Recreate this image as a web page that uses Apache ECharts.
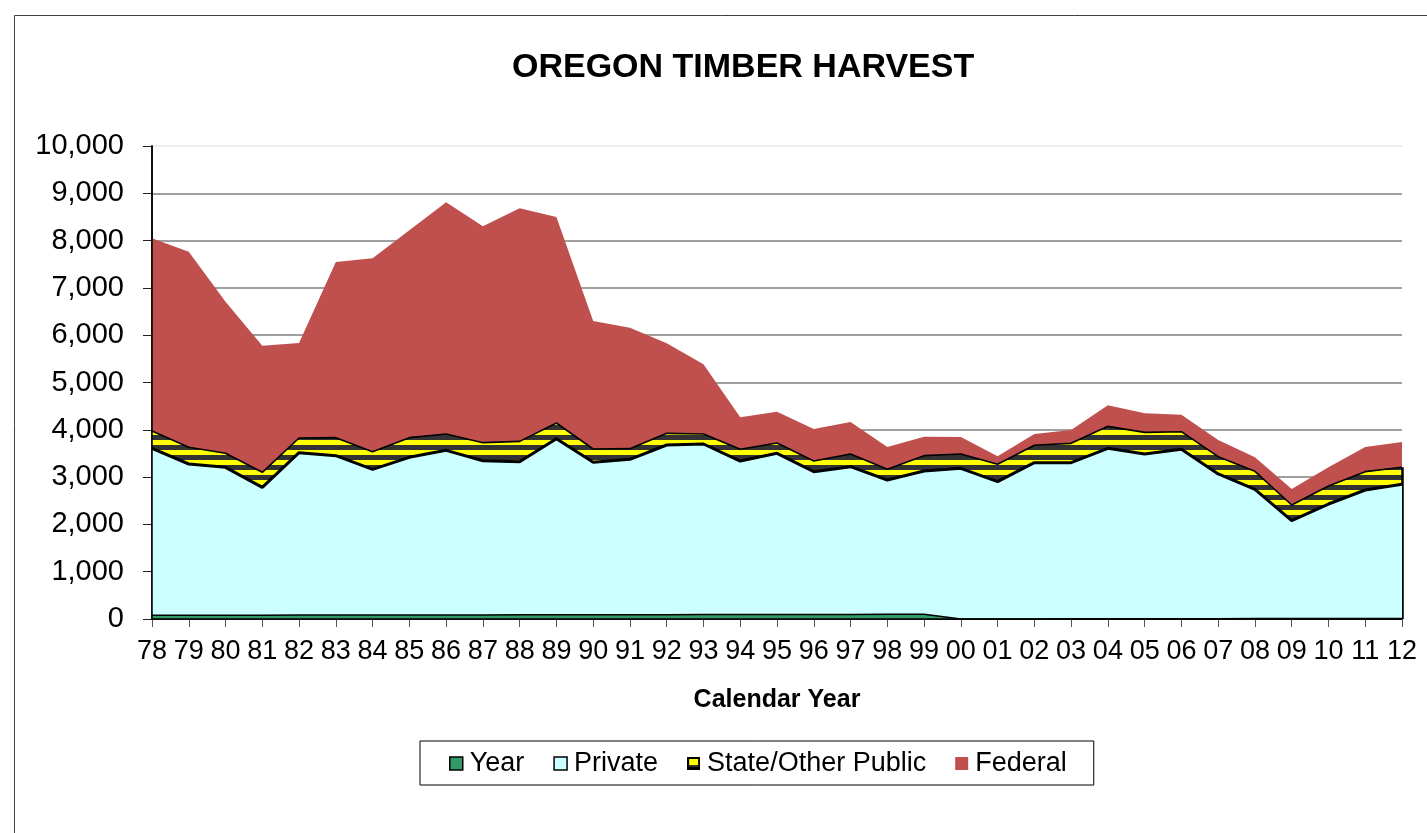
<!DOCTYPE html>
<html>
<head>
<meta charset="utf-8">
<title>Oregon Timber Harvest</title>
<script src="https://cdn.jsdelivr.net/npm/echarts@6/dist/echarts.min.js"></script>
<style>
  html, body { margin: 0; padding: 0; background: #ffffff; }
  #chart { width: 1427px; height: 833px; }
</style>
</head>
<body>
<div id="chart"></div>
<script>
// Calendar years (two-digit labels)
const years = ['78','79','80','81','82','83','84','85','86','87','88','89','90','91','92','93','94','95','96','97','98','99','00','01','02','03','04','05','06','07','08','09','10','11','12'];

// "Year" column as it was plotted (two-digit year numbers)
const yearValues = [78,79,80,81,82,83,84,85,86,87,88,89,90,91,92,93,94,95,96,97,98,99,0,1,2,3,4,5,6,7,8,9,10,11,12];

// Harvest by ownership (million board feet)
const privateValues = [3530,3198,3127,2703,3435,3370,3080,3333,3480,3260,3238,3723,3222,3285,3587,3607,3246,3408,3019,3124,2841,3030,3185,2903,3303,3302,3604,3483,3581,3059,2734,2069,2421,2716,2836];
const stateValues = [367,353,296,317,310,381,374,416,345,381,430,332,282,225,246,211,247,218,225,267,225,324,303,366,367,409,465,458,373,366,380,332,381,388,359];
const federalValues = [4074,4136,3206,2678,2008,3714,4087,4383,4898,4574,4927,4355,2706,2558,1903,1473,677,662,677,677,472,401,360,170,239,282,445,402,360,352,296,338,395,521,535];

const yTicks = { min: 0, max: 10000, interval: 1000 };

const FONT = '"Liberation Sans", Arial, Helvetica, sans-serif';
const YELLOW = '#FFFF00';
const DARK = '#333333';

// Horizontal yellow / dark stripes for the State/Other Public band
function stripeCanvas() {
  const c = document.createElement('canvas');
  c.width = 8; c.height = 10;
  const g = c.getContext('2d');
  g.fillStyle = YELLOW; g.fillRect(0, 0, 8, 5);
  g.fillStyle = DARK; g.fillRect(0, 5, 8, 5);
  return c;
}

// Legend swatch for the striped series
function stateSwatch() {
  const c = document.createElement('canvas');
  c.width = 13; c.height = 13;
  const g = c.getContext('2d');
  g.fillStyle = '#000'; g.fillRect(0, 0, 13, 13);
  g.fillStyle = YELLOW; g.fillRect(2, 2, 9, 6);
  g.fillStyle = DARK; g.fillRect(2, 8, 9, 2);
  return c.toDataURL();
}

const stripes = { image: stripeCanvas(), repeat: 'repeat' };

const last = years.length - 1;
const stackTopAtEnd = yearValues[last] + privateValues[last] + stateValues[last];

const gridColors = [];
for (let v = yTicks.min; v <= yTicks.max; v += yTicks.interval) {
  gridColors.push(v === yTicks.max ? '#e8e8e8' : '#7f7f7f');
}

const chart = echarts.init(document.getElementById('chart'), null, { renderer: 'canvas' });

chart.setOption({
  animation: false,
  backgroundColor: '#ffffff',
  textStyle: { fontFamily: FONT },
  graphic: [{
    type: 'rect',
    silent: true,
    z: -10,
    shape: { x: 14.5, y: 15.5, width: 1500, height: 900 },
    style: { fill: null, stroke: '#404040', lineWidth: 1 }
  }],
  title: {
    text: 'OREGON TIMBER HARVEST',
    left: 512,
    top: 51,
    padding: 0,
    textStyle: { fontFamily: FONT, fontSize: 34, fontWeight: 'bold', color: '#000' }
  },
  legend: {
    left: 420,
    top: 741,
    padding: [9, 27, 8, 29],
    itemGap: 29,
    itemWidth: 13,
    itemHeight: 13,
    borderColor: '#000',
    borderWidth: 1,
    selectedMode: false,
    textStyle: { fontFamily: FONT, fontSize: 27, color: '#000', padding: [0, 0, 0, 2] },
    data: [
      { name: 'Year', icon: 'rect', itemStyle: { color: '#339966', borderColor: '#000', borderWidth: 1.5 } },
      { name: 'Private', icon: 'rect', itemStyle: { color: '#CCFFFF', borderColor: '#000', borderWidth: 1.5 } },
      { name: 'State/Other Public', icon: 'image://' + stateSwatch() },
      { name: 'Federal', icon: 'rect', itemStyle: { color: '#C0504D', borderWidth: 0 } }
    ]
  },
  grid: { left: 152, right: 25, top: 146, bottom: 214, containLabel: false },
  xAxis: [{
    type: 'category',
    data: years,
    boundaryGap: false,
    position: 'bottom',
    name: 'Calendar Year',
    nameLocation: 'middle',
    nameGap: 69,
    nameTextStyle: { fontFamily: FONT, fontSize: 25, fontWeight: 'bold', color: '#000' },
    axisLine: { show: true, lineStyle: { color: '#000', width: 1.5 } },
    axisTick: { show: true, alignWithLabel: true, length: 8, lineStyle: { color: '#555', width: 1 } },
    axisLabel: { interval: 0, margin: 19, fontFamily: FONT, fontSize: 27, color: '#000' },
    splitLine: { show: false }
  }, {
    type: 'category',
    data: years,
    boundaryGap: false,
    position: 'bottom',
    z: 10,
    axisLine: { show: true, lineStyle: { color: '#000', width: 1.5 } },
    axisTick: { show: false },
    axisLabel: { show: false },
    splitLine: { show: false }
  }],
  yAxis: [{
    type: 'value',
    position: 'left',
    min: yTicks.min,
    max: yTicks.max,
    interval: yTicks.interval,
    axisLine: { show: true, lineStyle: { color: '#000', width: 1.5 } },
    axisTick: { show: true, length: 9, lineStyle: { color: '#222', width: 1 } },
    axisLabel: {
      margin: 28,
      fontFamily: FONT, fontSize: 29, color: '#000',
      formatter: v => v.toLocaleString('en-US')
    },
    splitLine: { show: true, lineStyle: { color: gridColors, width: 1.5 } }
  }, {
    type: 'value',
    position: 'left',
    min: yTicks.min,
    max: yTicks.max,
    interval: yTicks.interval,
    z: 10,
    axisLine: { show: true, lineStyle: { color: '#000', width: 1.5 } },
    axisTick: { show: false },
    axisLabel: { show: false },
    splitLine: { show: false }
  }],
  series: [
    {
      name: 'Year',
      type: 'line',
      stack: 'harvest',
      z: 6,
      symbol: 'none',
      color: '#339966',
      lineStyle: { color: '#000', width: 1.5 },
      areaStyle: { color: '#339966', opacity: 1 },
      data: yearValues
    },
    {
      name: 'Private',
      type: 'line',
      stack: 'harvest',
      z: 5,
      symbol: 'none',
      color: '#CCFFFF',
      lineStyle: { color: '#000', width: 3 },
      areaStyle: { color: '#CCFFFF', opacity: 1 },
      data: privateValues
    },
    {
      name: 'State/Other Public',
      type: 'line',
      stack: 'harvest',
      z: 4,
      symbol: 'none',
      color: YELLOW,
      lineStyle: { color: '#000', width: 1.6 },
      areaStyle: { color: stripes, opacity: 1 },
      data: stateValues
    },
    {
      name: 'Federal',
      type: 'line',
      stack: 'harvest',
      z: 3,
      symbol: 'none',
      color: '#C0504D',
      lineStyle: { width: 0, opacity: 0 },
      areaStyle: { color: '#C0504D', opacity: 1 },
      data: federalValues
    },
    {
      // closing edge of the stacked bands at the last year
      name: 'edge',
      type: 'line',
      z: 7,
      silent: true,
      data: [],
      markLine: {
        silent: true,
        symbol: 'none',
        label: { show: false },
        lineStyle: { color: '#000', width: 2.5, type: 'solid' },
        data: [[
          { coord: [years[last], 0] },
          { coord: [years[last], stackTopAtEnd] }
        ]]
      }
    }
  ]
});
</script>
</body>
</html>
